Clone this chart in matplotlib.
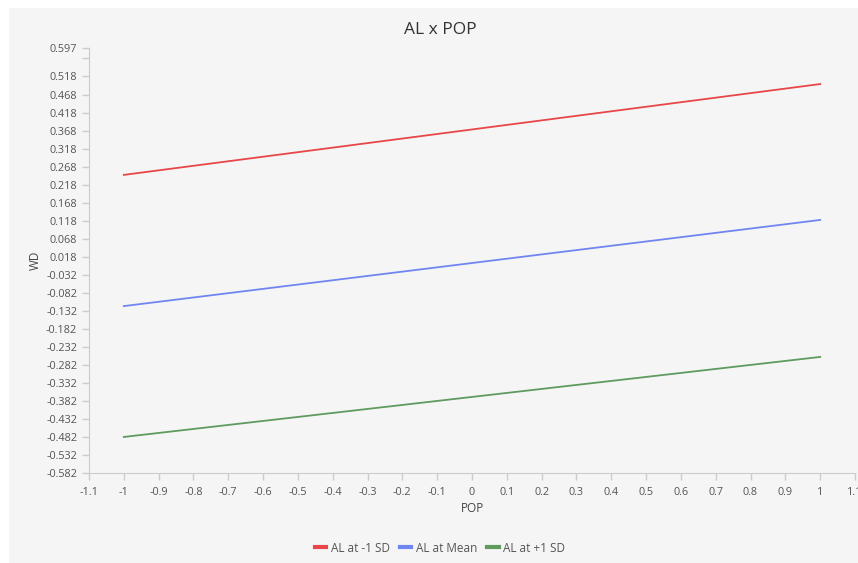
import numpy as np
import matplotlib
matplotlib.use('Agg')
from matplotlib import pyplot as plt
from matplotlib.patches import Rectangle

plt.rcParams['font.family'] = ['Open Sans', 'DejaVu Sans']

# data
pop = [-1, 1]
series_names = ['AL at -1 SD', 'AL at Mean', 'AL at +1 SD']
wd_low = [0.245, 0.497]
wd_mean = [-0.119, 0.120]
wd_high = [-0.482, -0.260]
colors = ['#e8474a', '#6f86f0', '#5f9a5f']

y_ticks = [0.597, 0.568, 0.518, 0.468, 0.418, 0.368, 0.318, 0.268, 0.218, 0.168,
           0.118, 0.068, 0.018, -0.032, -0.082, -0.132, -0.182, -0.232, -0.282,
           -0.332, -0.382, -0.432, -0.482, -0.532, -0.582]
y_labels = ['' if v == 0.568 else f'{v:g}' for v in y_ticks]
x_ticks = np.round(np.arange(-1.1, 1.15, 0.1), 1)
x_labels = [f'{v:g}' for v in x_ticks]

fig = plt.figure(figsize=(8.58, 5.63), dpi=100, facecolor='white')
fig.add_artist(Rectangle((9 / 858, 0), 1, 1 - 8 / 563, transform=fig.transFigure,
                         facecolor='#f5f5f5', edgecolor='none', zorder=-10))

ax = fig.add_axes([89 / 858, 90 / 563, 766 / 858, 425 / 563])
ax.set_facecolor('#f5f5f5')

for vals, name, c in zip([wd_low, wd_mean, wd_high], series_names, colors):
    ax.plot(pop, vals, color=c, lw=1.3, label=name)

ax.set_xlim(-1.1, 1.1)
ax.set_ylim(-0.582, 0.597)
ax.set_yticks(y_ticks)
ax.set_yticklabels(y_labels)
ax.set_xticks(x_ticks)
ax.set_xticklabels(x_labels)

for s in ['top', 'right']:
    ax.spines[s].set_visible(False)
for s in ['left', 'bottom']:
    ax.spines[s].set_color('#cccccc')
ax.tick_params(colors='#cccccc', labelcolor='#555555', labelsize=7.8, length=5, width=1)
ax.tick_params(axis='x', pad=5)

ax.set_xlabel('POP', fontsize=8.5, color='#444444', labelpad=3)
ax.set_ylabel('WD', fontsize=8.5, color='#444444', labelpad=3)
fig.text(440 / 858, 1 - 30 / 563, 'AL x POP', ha='center', va='center', fontsize=12.5, color='#333333')

leg = fig.legend(loc='center', bbox_to_anchor=(440 / 858, 1 - 548 / 563), ncol=3, frameon=False,
                 fontsize=8.5, handlelength=1.0, handletextpad=0.4, columnspacing=0.8,
                 labelcolor='#555555')
for h in leg.legend_handles:
    h.set_linewidth(3)

fig.savefig('out.png', dpi=100, facecolor=fig.get_facecolor())
